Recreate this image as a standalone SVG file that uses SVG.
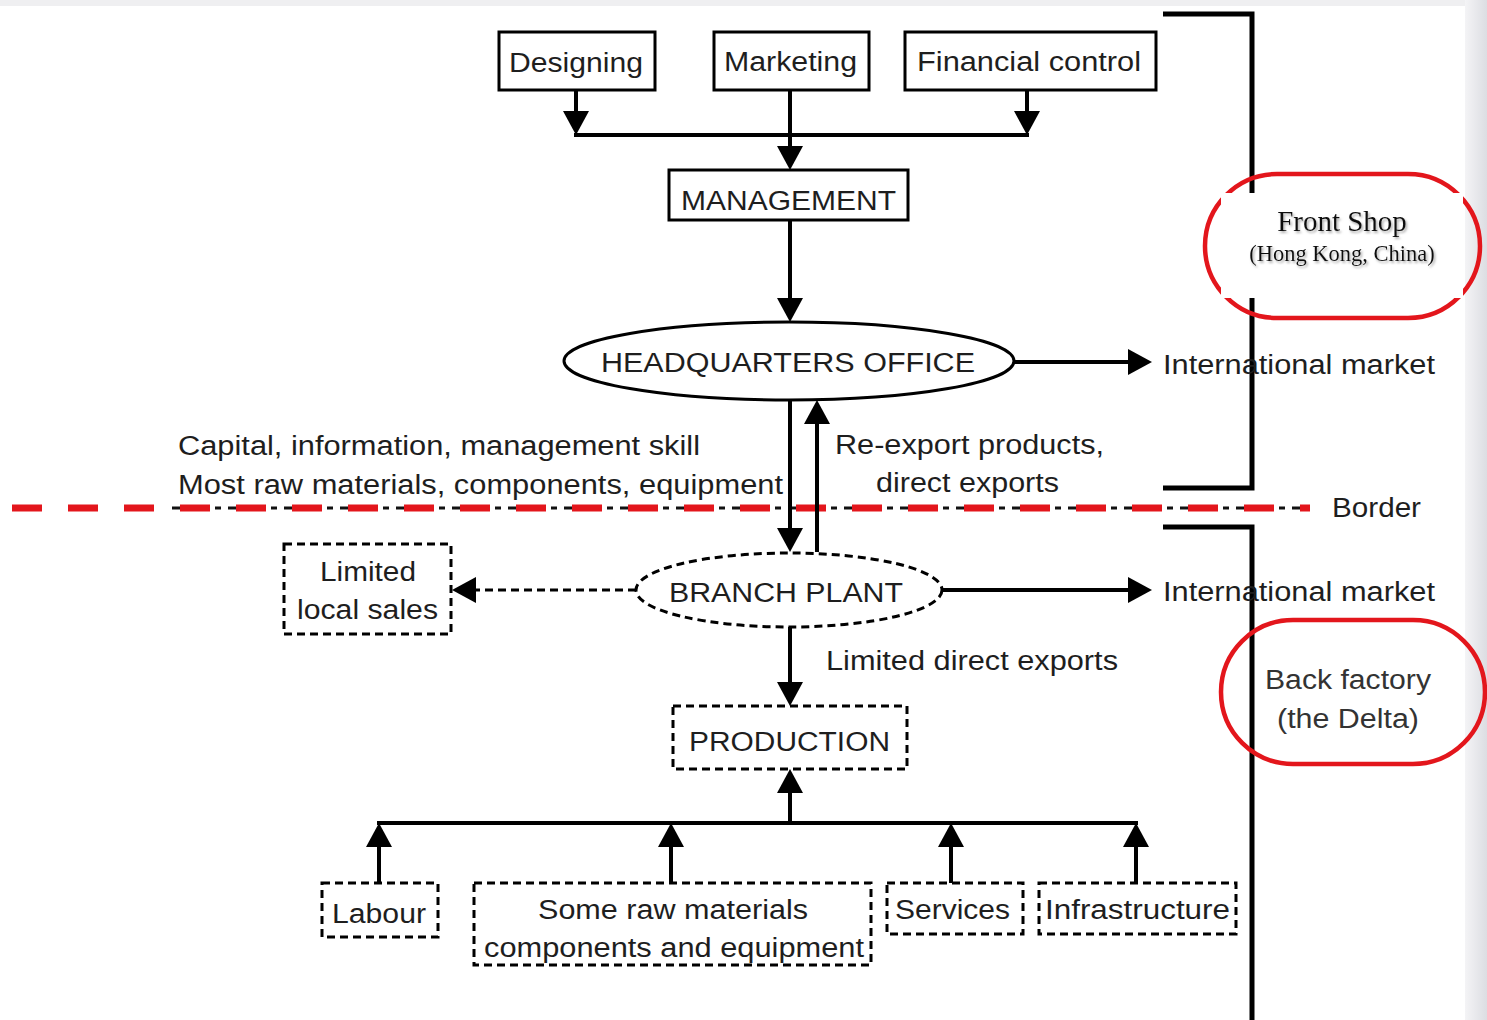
<svg xmlns="http://www.w3.org/2000/svg" width="1487" height="1020" viewBox="0 0 1487 1020">
  <defs>
    <marker id="ah" markerUnits="userSpaceOnUse" markerWidth="24" markerHeight="26" viewBox="0 0 24 26" refX="20" refY="13" orient="auto">
      <path d="M0,0 L24,13 L0,26 Z" fill="#000"/>
    </marker>
    <linearGradient id="edge" x1="0" x2="1" y1="0" y2="0">
      <stop offset="0" stop-color="#f4f4f6"/>
      <stop offset="1" stop-color="#dcdde2"/>
    </linearGradient>
    <filter id="shadow" x="-10%" y="-20%" width="120%" height="150%">
      <feDropShadow dx="1.5" dy="2" stdDeviation="1" flood-color="#888" flood-opacity="0.7"/>
    </filter>
    <style>
      .t { font-family: "Liberation Sans", Arial, sans-serif; font-size: 27px; fill: #1e1e1e; }
      .c { text-anchor: middle; }
      .box { fill: #fff; stroke: #000; stroke-width: 3; }
      .dbox { fill: #fff; stroke: #000; stroke-width: 3; stroke-dasharray: 8 5; }
      .ln { fill: none; stroke: #000; stroke-width: 4; }
      .arr { fill: none; stroke: #000; stroke-width: 4; marker-end: url(#ah); }
      .darr { fill: none; stroke: #000; stroke-width: 3; stroke-dasharray: 8 5; marker-end: url(#ah); }
      .brk { fill: none; stroke: #000; stroke-width: 5; }
      .red { fill: none; stroke: #e3161c; stroke-width: 4.5; }
      .serif { font-family: "Liberation Serif", "Times New Roman", serif; fill: #111; text-anchor: middle; }
    </style>
  </defs>

  <rect x="0" y="0" width="1487" height="1020" fill="#fff"/>
  <rect x="0" y="0" width="1487" height="6" fill="#efeff1"/>
  <rect x="1465" y="0" width="22" height="1020" fill="url(#edge)"/>

  <!-- brackets -->
  <g id="brackets">
    <path class="brk" d="M1163,14 H1252 V488 H1163"/>
    <path class="brk" d="M1163,527 H1252 V1020"/>
  </g>

  <!-- border line -->
  <g id="border">
    <line x1="165" y1="508" x2="1310" y2="508" stroke="#111" stroke-width="3" stroke-dasharray="38 5 6 7" stroke-dashoffset="-7"/>
    <line x1="12" y1="508" x2="1310" y2="508" stroke="#e3161c" stroke-width="7" stroke-dasharray="30 26"/>
    <text class="t" x="1332" y="517" textLength="89" lengthAdjust="spacingAndGlyphs">Border</text>
  </g>

  <!-- connectors -->
  <g id="connectors">
    <path class="arr" d="M576,90 V131"/>
    <path class="arr" d="M1027,90 V131"/>
    <path class="ln" d="M574,135 H1029"/>
    <path class="arr" d="M790,90 V166"/>
    <path class="arr" d="M790,220 V318"/>
    <path class="arr" d="M1014,362 H1148"/>
    <path class="arr" d="M790,400 V548"/>
    <path class="arr" d="M817,552 V404"/>
    <path class="darr" d="M636,590 H456"/>
    <path class="arr" d="M942,590 H1148"/>
    <path class="arr" d="M790,627 V702"/>
    <path class="ln" d="M377,823 H1138"/>
    <path class="arr" d="M790,823 V773"/>
    <path class="arr" d="M379,883 V827"/>
    <path class="arr" d="M671,883 V827"/>
    <path class="arr" d="M951,883 V827"/>
    <path class="arr" d="M1136,883 V827"/>
  </g>

  <!-- edge labels -->
  <g id="labels">
    <text class="t" x="1163" y="374" textLength="272" lengthAdjust="spacingAndGlyphs">International market</text>
    <text class="t" x="178" y="455" textLength="522" lengthAdjust="spacingAndGlyphs">Capital, information, management skill</text>
    <text class="t" x="178" y="494" textLength="605" lengthAdjust="spacingAndGlyphs">Most raw materials, components, equipment</text>
    <text class="t" x="835" y="454" textLength="269" lengthAdjust="spacingAndGlyphs">Re-export products,</text>
    <text class="t" x="876" y="492" textLength="183" lengthAdjust="spacingAndGlyphs">direct exports</text>
    <text class="t" x="1163" y="601" textLength="272" lengthAdjust="spacingAndGlyphs">International market</text>
    <text class="t" x="826" y="670" textLength="292" lengthAdjust="spacingAndGlyphs">Limited direct exports</text>
  </g>

  <!-- nodes -->
  <g id="designing">
    <rect class="box" x="499" y="32" width="156" height="58"/>
    <text class="t" x="509" y="72" textLength="134" lengthAdjust="spacingAndGlyphs">Designing</text>
  </g>
  <g id="marketing">
    <rect class="box" x="714" y="32" width="155" height="58"/>
    <text class="t" x="724" y="71" textLength="133" lengthAdjust="spacingAndGlyphs">Marketing</text>
  </g>
  <g id="financial">
    <rect class="box" x="905" y="32" width="251" height="58"/>
    <text class="t" x="917" y="71" textLength="224" lengthAdjust="spacingAndGlyphs">Financial control</text>
  </g>
  <g id="management">
    <rect class="box" x="669" y="170" width="239" height="50"/>
    <text class="t" x="681" y="210" textLength="215" lengthAdjust="spacingAndGlyphs">MANAGEMENT</text>
  </g>
  <g id="headquarters">
    <ellipse cx="789" cy="361" rx="225" ry="39" fill="#fff" stroke="#000" stroke-width="3"/>
    <text class="t" x="601" y="372" textLength="374" lengthAdjust="spacingAndGlyphs">HEADQUARTERS OFFICE</text>
  </g>
  <g id="branch-plant">
    <ellipse cx="789" cy="590" rx="153" ry="37" fill="#fff" stroke="#000" stroke-width="3" stroke-dasharray="8 5"/>
    <text class="t" x="669" y="602" textLength="234" lengthAdjust="spacingAndGlyphs">BRANCH PLANT</text>
  </g>
  <g id="local-sales">
    <rect class="dbox" x="284" y="544" width="167" height="90"/>
    <text class="t" x="320" y="581" textLength="96" lengthAdjust="spacingAndGlyphs">Limited</text>
    <text class="t" x="297" y="619" textLength="141" lengthAdjust="spacingAndGlyphs">local sales</text>
  </g>
  <g id="production">
    <rect class="dbox" x="673" y="706" width="234" height="63"/>
    <text class="t" x="689" y="751" textLength="201" lengthAdjust="spacingAndGlyphs">PRODUCTION</text>
  </g>
  <g id="labour">
    <rect class="dbox" x="322" y="883" width="116" height="54"/>
    <text class="t" x="332" y="923" textLength="94" lengthAdjust="spacingAndGlyphs">Labour</text>
  </g>
  <g id="raw-materials">
    <rect class="dbox" x="474" y="883" width="397" height="82"/>
    <text class="t" x="538" y="919" textLength="270" lengthAdjust="spacingAndGlyphs">Some raw materials</text>
    <text class="t" x="484" y="957" textLength="380" lengthAdjust="spacingAndGlyphs">components and equipment</text>
  </g>
  <g id="services">
    <rect class="dbox" x="887" y="883" width="136" height="51"/>
    <text class="t" x="895" y="919" textLength="115" lengthAdjust="spacingAndGlyphs">Services</text>
  </g>
  <g id="infrastructure">
    <rect class="dbox" x="1039" y="883" width="197" height="51"/>
    <text class="t" x="1045" y="919" textLength="185" lengthAdjust="spacingAndGlyphs">Infrastructure</text>
  </g>

  <!-- annotations -->
  <g id="front-shop">
    <rect class="red" x="1205" y="174" width="275" height="144" rx="72" ry="72"/>
    <rect x="1221" y="193" width="242" height="105" fill="#fff"/>
    <g filter="url(#shadow)">
      <text class="serif" x="1342" y="231" font-size="29">Front Shop</text>
      <text class="serif" x="1342" y="261" font-size="22.5">(Hong Kong, China)</text>
    </g>
  </g>
  <g id="back-factory">
    <rect class="red" x="1221" y="620" width="264" height="144" rx="72" ry="72"/>
    <text class="t" x="1265" y="689" textLength="166" lengthAdjust="spacingAndGlyphs" style="fill:#333">Back factory</text>
    <text class="t" x="1277" y="728" textLength="142" lengthAdjust="spacingAndGlyphs" style="fill:#333">(the Delta)</text>
  </g>
</svg>
